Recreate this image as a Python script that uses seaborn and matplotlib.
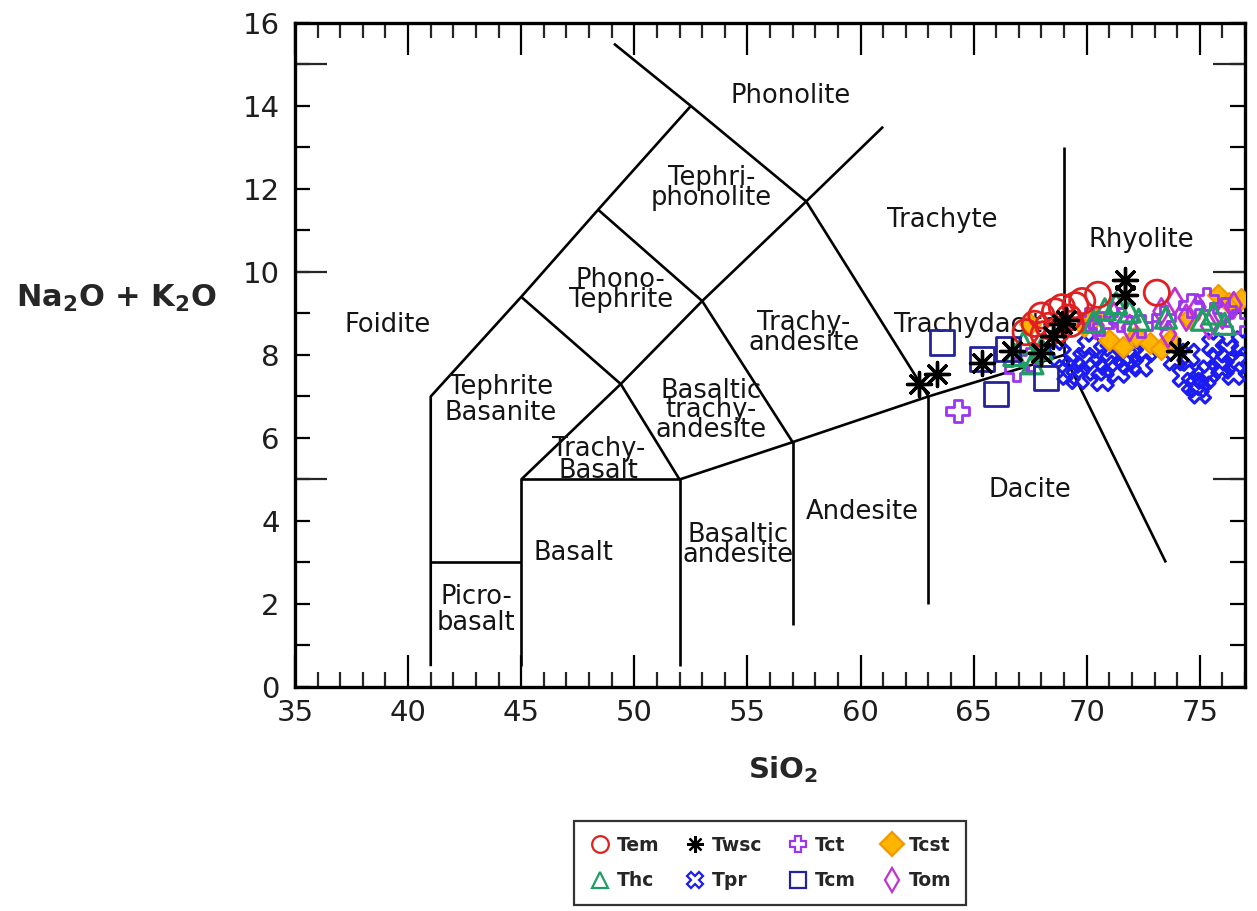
import matplotlib
matplotlib.use("Agg")
import matplotlib.pyplot as plt
from matplotlib.lines import Line2D
from matplotlib.ticker import MultipleLocator, FixedLocator, FuncFormatter
import seaborn as sns
import pandas as pd

# ---- sample compositions (wt%) ----
tem_sio2 = [67.3, 67.7, 68.0, 68.3, 68.6, 68.9, 69.2, 69.5, 69.8, 68.1, 68.7, 69.3, 70.5, 73.1]
tem_alk = [8.55, 8.75, 8.95, 8.7, 9.05, 9.15, 8.9, 9.2, 9.3, 8.5, 8.6, 8.75, 9.45, 9.5]

twsc_sio2 = [62.6, 63.4, 65.35, 66.7, 68.0, 68.5, 68.9, 69.1, 71.7, 71.7, 74.1]
twsc_alk = [7.3, 7.55, 7.8, 8.1, 8.05, 8.45, 8.75, 8.85, 9.8, 9.45, 8.1]

tct_sio2 = [64.3, 66.9, 67.5, 70.1, 70.6, 71.5, 72.4, 73.4, 74.6, 75.3, 76.1, 76.6]
tct_alk = [6.65, 7.65, 7.9, 8.85, 8.75, 8.85, 8.7, 8.9, 9.2, 9.35, 9.1, 8.8]

tcst_sio2 = [67.5, 69.9, 70.3, 71.0, 71.6, 72.2, 72.8, 73.3, 73.7, 74.5, 75.8, 76.3, 76.8]
tcst_alk = [8.75, 8.7, 8.9, 8.35, 8.2, 8.45, 8.3, 8.15, 8.35, 8.9, 9.45, 9.25, 9.35]

thc_sio2 = [66.8, 67.2, 67.6, 68.0, 70.3, 70.8, 71.3, 71.9, 72.3, 73.5, 75.1, 75.6, 76.1]
thc_alk = [8.0, 8.3, 7.8, 8.15, 8.8, 9.1, 9.25, 9.05, 8.85, 8.9, 8.85, 9.0, 8.75]

tpr_sio2 = [68.8, 69.4, 69.9, 70.4, 70.9, 71.4, 71.9, 72.4, 70.1, 71.1, 72.0, 69.6, 73.9,
            74.3, 74.7, 75.0, 75.4, 75.8, 76.2, 76.6, 76.9, 74.5, 75.2, 76.0, 76.5, 74.9, 75.6,
            70.7, 71.7, 72.6, 69.2]
tpr_alk = [8.0, 7.7, 7.9, 7.65, 7.85, 7.6, 7.8, 7.75, 8.2, 8.1, 8.0, 7.45, 7.9,
           7.5, 7.3, 7.1, 7.6, 7.9, 8.1, 7.8, 8.3, 8.0, 7.45, 7.7, 7.55, 7.25, 8.25,
           7.4, 7.95, 8.1, 7.55]

tcm_sio2 = [63.6, 65.35, 66.0, 66.5, 68.2]
tcm_alk = [8.3, 7.9, 7.05, 8.15, 7.45]

tom_sio2 = [70.4, 71.2, 71.9, 73.3, 73.9, 74.4, 74.9, 75.4, 76.0, 76.5, 73.6]
tom_alk = [8.7, 8.95, 8.65, 9.05, 9.3, 8.9, 9.15, 8.7, 8.95, 9.2, 8.5]

# ---- TAS classification field boundaries (SiO2, Na2O+K2O) ----
tas_boundaries = [
    [(41, 0.5), (41, 7), (45, 9.4), (48.4, 11.5), (52.5, 14), (49.1, 15.5)],
    [(41, 3), (45, 3)],
    [(45, 0.5), (45, 5), (52, 5), (52, 0.5)],
    [(45, 5), (49.4, 7.3), (53, 9.3), (57.6, 11.7), (61, 13.5)],
    [(49.4, 7.3), (52, 5)],
    [(45, 9.4), (49.4, 7.3)],
    [(48.4, 11.5), (53, 9.3), (57, 5.9)],
    [(52.5, 14), (57.6, 11.7), (63, 7)],
    [(52, 5), (57, 5.9), (63, 7), (69, 8)],
    [(57, 5.9), (57, 1.5)],
    [(63, 7), (63, 2)],
    [(69, 8), (69, 13)],
    [(69, 8), (73.5, 3)],
]

field_names = ["Foidite", "Phonolite", "Tephri-\nphonolite", "Phono-\nTephrite",
               "Tephrite\nBasanite", "Trachy-\nBasalt", "Basaltic\ntrachy-\nandesite",
               "Trachy-\nandesite", "Trachyte", "Trachydacite", "Rhyolite", "Dacite",
               "Andesite", "Basaltic\nandesite", "Basalt", "Picro-\nbasalt"]
field_sio2 = [39.1, 56.9, 53.4, 49.4, 44.1, 48.4, 53.4, 57.5, 63.6, 61.5, 72.4, 67.5,
              60.1, 54.6, 47.3, 43.0]
field_alk = [8.72, 14.24, 12.02, 9.57, 6.92, 5.47, 6.67, 8.53, 11.25, 8.72, 10.77, 4.75,
             4.22, 3.42, 3.23, 1.86]
field_halign = ["center"] * 9 + ["left"] + ["center"] * 6
field_spacing = [1.0, 1.0, 0.72, 0.72, 1.0, 0.78, 0.68, 0.72, 1.0, 1.0, 1.0, 1.0,
                 1.0, 0.72, 1.0, 1.0]

sns.set_style("white")
plt.rcParams["font.family"] = ["DejaVu Sans"]
plt.rcParams["mathtext.fontset"] = "dejavusans"

fig = plt.figure(figsize=(12.57, 9.11), dpi=100)
ax = fig.add_axes([0.2347, 0.2459, 0.9905 - 0.2347, 0.9748 - 0.2459])

for seg in tas_boundaries:
    xs, ys = zip(*seg)
    ax.plot(xs, ys, color="black", lw=1.9, solid_capstyle="butt", zorder=1)

for name, fx, fy, ha, ls in zip(field_names, field_sio2, field_alk, field_halign, field_spacing):
    ax.text(fx, fy, name, ha=ha, va="center", fontsize=18.5, color="#151515",
            linespacing=ls, multialignment="center", zorder=2)

# series: (label, x, y, marker, size, face, edge, lw)
series = [
    ("Tpr", tpr_sio2, tpr_alk, "X", 240, "none", "#1c1cf0", 2.2),
    ("Tcst", tcst_sio2, tcst_alk, "D", 115, "#ffb400", "#f09a00", 1.5),
    ("Tom", tom_sio2, tom_alk, "d", 175, "none", "#c032d2", 2.0),
    ("Tct", tct_sio2, tct_alk, "P", 270, "none", "#9a35f0", 2.0),
    ("Thc", thc_sio2, thc_alk, "^", 230, "none", "#1f9f63", 2.3),
    ("Tcm", tcm_sio2, tcm_alk, "s", 300, "none", "#24249a", 2.0),
    ("Tem", tem_sio2, tem_alk, "o", 330, "none", "#e02020", 2.0),
]
for label, xs, ys, mk, s, fc, ec, lw in series:
    df = pd.DataFrame({"SiO2": xs, "alk": ys})
    sns.scatterplot(data=df, x="SiO2", y="alk", marker=mk, s=s, facecolor=fc,
                    edgecolor=ec, linewidth=lw, ax=ax, zorder=3, legend=False)

# asterisk markers (line art)
df_tw = pd.DataFrame({"SiO2": twsc_sio2, "alk": twsc_alk})
ax.scatter(df_tw["SiO2"], df_tw["alk"], marker=(8, 2, 0), s=300, c="black",
           linewidths=2.4, zorder=4)

ax.set_xlim(35, 77)
ax.set_ylim(0, 16)

# ticks: inward on all sides, long ticks every 5 units
ax.xaxis.set_major_locator(MultipleLocator(5))
ax.xaxis.set_minor_locator(MultipleLocator(1))
ax.yaxis.set_major_locator(MultipleLocator(1))
ax.yaxis.set_major_formatter(FuncFormatter(lambda v, p: f"{int(round(v))}" if int(round(v)) % 2 == 0 else ""))
ax.yaxis.set_minor_locator(FixedLocator([5, 10, 15]))
ax.yaxis.remove_overlapping_locs = False

ax.tick_params(axis="x", which="major", direction="in", length=23, width=1.6,
               top=True, bottom=True, labelsize=21, pad=9, colors="black")
ax.tick_params(axis="x", which="minor", direction="in", length=11, width=1.6,
               top=True, bottom=True)
ax.tick_params(axis="y", which="major", direction="in", length=11, width=1.6,
               left=True, right=True, labelsize=21, pad=11, colors="black")
ax.tick_params(axis="y", which="minor", direction="in", length=23, width=1.6,
               left=True, right=True)
for lab in ax.get_xticklabels() + ax.get_yticklabels():
    lab.set_color("#1e1e1e")

for sp in ax.spines.values():
    sp.set_visible(True)
    sp.set_color("black")
    sp.set_linewidth(2.4)

ax.set_xlabel("")
ax.set_ylabel("")
fig.text(0.093, 0.672, r"Na$_\mathbf{2}$O + K$_\mathbf{2}$O", ha="center", va="center",
         fontsize=22, fontweight="bold")
fig.text(0.623, 0.155, r"SiO$_\mathbf{2}$", ha="center", va="center",
         fontsize=21, fontweight="bold")

legend_items = {
    "Tem": dict(marker="o", mfc="none", mec="#e02020"),
    "Thc": dict(marker="^", mfc="none", mec="#1f9f63"),
    "Twsc": dict(marker=(8, 2, 0), mfc="black", mec="black"),
    "Tpr": dict(marker="X", mfc="none", mec="#1c1cf0"),
    "Tct": dict(marker="P", mfc="none", mec="#9a35f0"),
    "Tcm": dict(marker="s", mfc="none", mec="#24249a"),
    "Tcst": dict(marker="D", mfc="#ffb400", mec="#f09a00"),
    "Tom": dict(marker="d", mfc="none", mec="#c032d2"),
}
handles = [Line2D([], [], linestyle="none", markersize=12, markeredgewidth=1.6, **kw)
           for kw in legend_items.values()]
leg = fig.legend(handles, list(legend_items.keys()), loc="center",
                 bbox_to_anchor=(0.6126, 0.0527), ncol=4, frameon=True, fancybox=False,
                 prop={"weight": "bold", "size": 13.5}, handletextpad=0.3,
                 columnspacing=1.3, labelspacing=0.9, borderpad=0.8, handlelength=1.2)
leg.get_frame().set_edgecolor("black")
leg.get_frame().set_linewidth(1.6)

fig.savefig("out.png", dpi=100)
